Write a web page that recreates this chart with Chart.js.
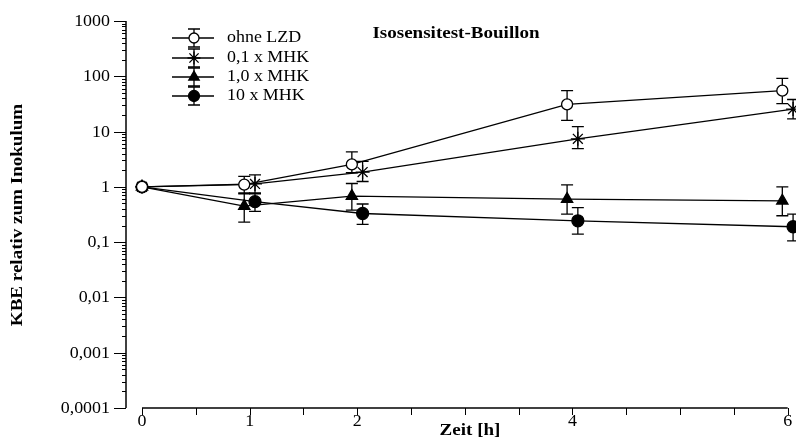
<!DOCTYPE html>
<html>
<head>
<meta charset="utf-8">
<script src="https://cdn.jsdelivr.net/npm/chart.js@4.4.1/dist/chart.umd.min.js"></script>
<style>
  body { margin: 0; background: #fff; }
  #wrap { width: 796px; height: 439px; position: relative; }
</style>
</head>
<body>
<div id="wrap"><canvas id="chart"></canvas></div>
<script>
// time points (slightly shifted left/right like in the original plot)
var timeA = [0, 0.95, 1.95, 3.95, 5.95];
var timeB = [0, 1.05, 2.05, 4.05, 6.05];

// KBE relative to inoculum, with upper / lower end of error bar
var ohneLZD    = [1, 1.1, 2.55, 31, 55];
var ohneLZD_hi = [1, 1.55, 4.3, 55, 92];
var ohneLZD_lo = [1, 0.78, 1.8, 16, 32];

var mhk01    = [1, 1.13, 1.85, 7.4, 25.5];
var mhk01_hi = [1, 1.65, 2.9, 12.3, 38];
var mhk01_lo = [1, 0.78, 1.25, 4.9, 17];

var mhk10    = [1, 0.45, 0.68, 0.6, 0.56];
var mhk10_hi = [1, 0.75, 1.15, 1.09, 1.0];
var mhk10_lo = [1, 0.23, 0.38, 0.32, 0.3];

var mhk100    = [1, 0.54, 0.33, 0.243, 0.19];
var mhk100_hi = [1, 0.75, 0.49, 0.42, 0.32];
var mhk100_lo = [1, 0.36, 0.21, 0.14, 0.105];

var seriesNames = ['ohne LZD', '0,1 x MHK', '1,0 x MHK', '10 x MHK'];

var yTicks = [0.0001, 0.001, 0.01, 0.1, 1, 10, 100, 1000];
var yTickLabels = ['0,0001', '0,001', '0,01', '0,1', '1', '10', '100', '1000'];
var xTicks = [0, 0.5, 1, 1.5, 2, 2.5, 3, 3.5, 4, 4.5, 5, 5.5, 6];
var xLabelTicks = [0, 1, 2, 4, 6];

function pts(xs, ys) {
  return xs.map(function (x, i) { return {x: x, y: ys[i]}; });
}

var SERIF = '"Liberation Serif", "DejaVu Serif", serif';
var STRETCH = 1.12;

// text with a little horizontal stretch like the original scan
function txt(ctx, s, x, y, align, font, rot) {
  ctx.save();
  ctx.translate(x, y);
  if (rot) ctx.rotate(rot);
  ctx.scale(STRETCH, 1);
  ctx.font = font;
  ctx.textAlign = align;
  ctx.textBaseline = 'middle';
  ctx.fillStyle = '#000';
  ctx.fillText(s, 0, 0);
  ctx.restore();
}

var errorBars = {
  id: 'errorBars',
  beforeDatasetsDraw: function (chart) {
    var ctx = chart.ctx, ys = chart.scales.y;
    ctx.save();
    ctx.strokeStyle = '#000';
    ctx.lineWidth = 1.3;
    chart.data.datasets.forEach(function (ds, di) {
      var meta = chart.getDatasetMeta(di);
      meta.data.forEach(function (p, i) {
        var top = ys.getPixelForValue(ds.hi[i]);
        var bot = ys.getPixelForValue(ds.lo[i]);
        if (Math.abs(top - bot) < 1) return;
        ctx.beginPath();
        ctx.moveTo(p.x, top); ctx.lineTo(p.x, bot);
        ctx.moveTo(p.x - 6, top); ctx.lineTo(p.x + 6, top);
        ctx.moveTo(p.x - 6, bot); ctx.lineTo(p.x + 6, bot);
        ctx.stroke();
      });
    });
    ctx.restore();
  }
};

var axesAndText = {
  id: 'axesAndText',
  afterDraw: function (chart) {
    var ctx = chart.ctx, xs = chart.scales.x, ys = chart.scales.y;
    var area = chart.chartArea;
    var axX = 126;
    ctx.save();
    ctx.strokeStyle = '#000';
    ctx.lineWidth = 1.5;
    // y axis
    ctx.beginPath();
    ctx.moveTo(axX, ys.getPixelForValue(1000));
    ctx.lineTo(axX, ys.getPixelForValue(0.0001));
    ctx.stroke();
    ctx.lineWidth = 1;
    yTicks.forEach(function (v, i) {
      var py = Math.round(ys.getPixelForValue(v)) + 0.5;
      ctx.beginPath();
      ctx.moveTo(axX - 12, py); ctx.lineTo(axX, py);
      ctx.stroke();
      txt(ctx, yTickLabels[i], 110, py, 'right', '16px ' + SERIF);
      if (v < 1000) {
        for (var m = 2; m <= 9; m++) {
          var my = Math.round(ys.getPixelForValue(v * m)) + 0.5;
          ctx.beginPath();
          ctx.moveTo(axX - 4, my); ctx.lineTo(axX, my);
          ctx.stroke();
        }
      }
    });
    // x axis
    var axY = area.bottom;
    ctx.lineWidth = 1.5;
    ctx.beginPath();
    ctx.moveTo(xs.getPixelForValue(0), axY);
    ctx.lineTo(xs.getPixelForValue(6), axY);
    ctx.stroke();
    ctx.lineWidth = 1;
    xTicks.forEach(function (v) {
      var px = Math.round(xs.getPixelForValue(v)) + 0.5;
      ctx.beginPath();
      ctx.moveTo(px, axY); ctx.lineTo(px, axY + 7);
      ctx.stroke();
    });
    xLabelTicks.forEach(function (v) {
      txt(ctx, String(v), xs.getPixelForValue(v), axY + 14, 'center', '16px ' + SERIF);
    });
    // axis titles
    txt(ctx, 'Zeit [h]', 470, 431, 'center', 'bold 17px ' + SERIF);
    txt(ctx, 'KBE relativ zum Inokulum', 18, 215, 'center', 'bold 17px ' + SERIF, -Math.PI / 2);
    // chart title
    txt(ctx, 'Isosensitest-Bouillon', 456, 34, 'center', 'bold 17px ' + SERIF);

    // legend
    var rows = [38, 58, 77, 96];
    chart.data.datasets.forEach(function (ds, i) {
      var cy = rows[i], cx = 194;
      ctx.strokeStyle = '#000';
      ctx.lineWidth = 1.3;
      ctx.beginPath();
      ctx.moveTo(172, cy); ctx.lineTo(214, cy);
      ctx.moveTo(cx, cy - 9); ctx.lineTo(cx, cy + 9);
      ctx.moveTo(cx - 6, cy - 9); ctx.lineTo(cx + 6, cy - 9);
      ctx.moveTo(cx - 6, cy + 9); ctx.lineTo(cx + 6, cy + 9);
      ctx.stroke();
      ctx.fillStyle = ds.pointBackgroundColor;
      ctx.strokeStyle = '#000';
      ctx.lineWidth = ds.borderWidth;
      Chart.helpers.drawPoint(ctx, {
        pointStyle: ds.pointStyle, radius: ds.pointRadius - 0.5,
        borderWidth: ds.borderWidth, rotation: 0
      }, cx, cy);
      txt(ctx, seriesNames[i], 227, cy, 'left', '16px ' + SERIF);
    });
    ctx.restore();
  }
};

function series(i, xs, ys, hi, lo, style, fill, r) {
  return {
    label: seriesNames[i],
    data: pts(xs, ys),
    hi: hi, lo: lo,
    borderColor: '#000',
    borderWidth: 1.3,
    pointStyle: style,
    pointRadius: r,
    pointBackgroundColor: fill,
    pointBorderColor: '#000',
    showLine: true,
    tension: 0,
    clip: false
  };
}

new Chart(document.getElementById('chart'), {
  type: 'scatter',
  data: {
    datasets: [
      series(0, timeA, ohneLZD, ohneLZD_hi, ohneLZD_lo, 'circle', '#fff', 5.5),
      series(1, timeB, mhk01, mhk01_hi, mhk01_lo, 'star', '#000', 7),
      series(2, timeA, mhk10, mhk10_hi, mhk10_lo, 'triangle', '#000', 6.5),
      series(3, timeB, mhk100, mhk100_hi, mhk100_lo, 'circle', '#000', 6)
    ]
  },
  options: {
    responsive: true,
    maintainAspectRatio: false,
    animation: false,
    layout: { padding: { left: 142, right: 8, top: 21, bottom: 31 } },
    scales: {
      x: { type: 'linear', min: 0, max: 6, display: false },
      y: { type: 'logarithmic', min: 0.0001, max: 1000, display: false }
    },
    plugins: {
      legend: { display: false },
      tooltip: { enabled: false },
      title: { display: false }
    }
  },
  plugins: [errorBars, axesAndText]
});
</script>
</body>
</html>
